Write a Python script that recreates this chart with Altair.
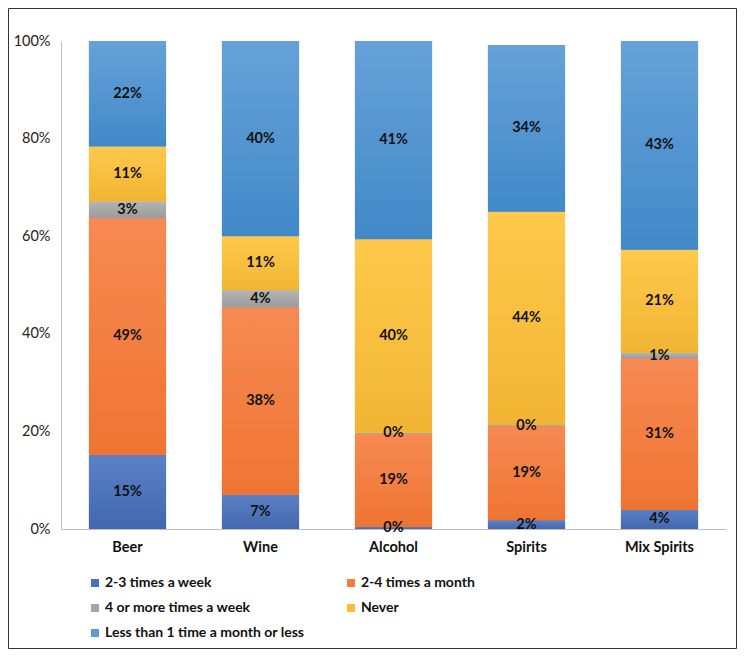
import altair as alt
import pandas as pd

categories = ["Beer", "Wine", "Alcohol", "Spirits", "Mix Spirits"]
series = ["2-3 times a week", "2-4 times a month", "4 or more times a week", "Never",
          "Less than 1 time a month or less"]
colors = ["#4A71BC", "#F47D3A", "#A5A5A5", "#FDC033", "#5B9BD5"]
tops = ["#5A80C6", "#F68A52", "#B4B4B4", "#FFC94C", "#66A2D9"]
bottoms = ["#4368B0", "#EF7432", "#9B9B9B", "#F1B533", "#4189C8"]
# legend fills column-first: order so that rows read as in the reference
legend_order = [0, 2, 4, 1, 3]

w23 = [15.2, 7.0, 0.4, 1.8, 3.9]
m24 = [48.5, 38.4, 19.1, 19.3, 31.1]
w4 = [3.4, 3.5, 0.2, 0.2, 1.1]
never = [11.3, 11.1, 39.7, 43.7, 21.1]
less = [21.6, 40.0, 40.6, 34.2, 42.8]

values = [w23, m24, w4, never, less]
rows = []
for si, s in enumerate(series):
    for ci, c in enumerate(categories):
        rows.append({"cat": c, "series": s, "rank": si, "value": values[si][ci]})
df = pd.DataFrame(rows)

dom = [series[i] for i in legend_order]
rng = [colors[i] for i in legend_order]

FONT = "Lato"

base = alt.Chart(df).transform_stack(
    stack="value", as_=["v0", "v1"], groupby=["cat"], sort=[alt.SortField("rank", order="ascending")]
).transform_calculate(
    mid="(datum.v0 + datum.v1) / 2",
    lbl="format(datum.value, '.0f') + '%'"
)

xenc = alt.X("cat:N", sort=categories, title=None,
             scale=alt.Scale(paddingInner=0.42, paddingOuter=0.21),
             axis=alt.Axis(labelAngle=0, labelFont=FONT, labelFontWeight="bold", labelFontSize=14.5,
                           labelColor="#111", labelPadding=11, ticks=False, domainColor="#BFBFBF"))

bars = base.mark_bar().encode(
    x=xenc,
    y=alt.Y("v0:Q", title=None, scale=alt.Scale(domain=[0, 100]),
            axis=alt.Axis(values=[0, 20, 40, 60, 80, 100], labelExpr="datum.value + '%'", grid=False,
                          ticks=False, labelFont=FONT, labelFontSize=14.5, labelColor="#222",
                          labelPadding=11, domainColor="#BFBFBF")),
    y2="v1:Q",
    color=alt.Color("series:N", scale=alt.Scale(domain=dom, range=rng),
                    legend=alt.Legend(title=None, orient="none", legendX=27, legendY=535, columns=2,
                                      columnPadding=39, rowPadding=11, symbolType="square",
                                      symbolSize=64, symbolStrokeWidth=0, labelFont=FONT,
                                      labelOffset=3, labelFontSize=14, labelFontWeight="bold",
                                      labelColor="#111", labelLimit=400)),
)

grad_layers = []
for si, s in enumerate(series):
    g = alt.Gradient(gradient="linear", x1=0, x2=0, y1=0, y2=1,
                     stops=[alt.GradientStop(color=tops[si], offset=0),
                            alt.GradientStop(color=bottoms[si], offset=1)])
    grad_layers.append(
        base.transform_filter(alt.datum.series == s).mark_bar(color=g).encode(
            x=alt.X("cat:N", sort=categories), y="v0:Q", y2="v1:Q")
    )

texts = base.mark_text(font=FONT, fontSize=14.5, fontWeight="bold", color="#111").encode(
    x=alt.X("cat:N", sort=categories),
    y=alt.Y("mid:Q"),
    text="lbl:N",
)

frame = alt.Chart(pd.DataFrame({"a": [0]})).mark_rect(fill=None, stroke="#333", strokeWidth=1).encode(
    x=alt.value(-52.5), x2=alt.value(675.5), y=alt.value(-32.5), y2=alt.value(607.5)
)

chart = alt.layer(bars, *grad_layers, texts, frame).properties(
    width=665, height=488,
    autosize=alt.AutoSizeParams(type="none"),
    padding={"left": 53, "top": 33, "right": 11, "bottom": 120},
).configure_view(stroke=None)

chart.save("out.html", embed_options={"renderer": "svg", "actions": False})
